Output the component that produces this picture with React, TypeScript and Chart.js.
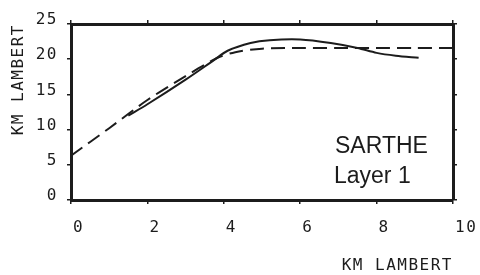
import React, { useEffect, useRef } from "react";
import { Chart, registerables } from "chart.js";

Chart.register(...registerables);

const solidX = [1.5, 2, 3, 3.75, 4.1, 4.7, 5.2, 6, 6.8, 7.5, 8, 8.5, 9.1];
const solidY = [12.0, 13.6, 17.1, 19.9, 21.2, 22.3, 22.7, 22.8, 22.3, 21.6, 20.9, 20.5, 20.2];
const dashedX = [0, 1, 2, 3, 3.8, 4.3, 5, 6, 7, 8, 9, 10];
const dashedY = [6.3, 10.2, 14.2, 17.6, 20.1, 21.0, 21.5, 21.6, 21.6, 21.6, 21.6, 21.6];
const xTicks = [0, 2, 4, 6, 8, 10];
const yTicks = [0, 5, 10, 15, 20, 25];
const axisTitle = "KM LAMBERT";
const labelLines = ["SARTHE", "Layer 1"];

const INK = "#1c1c1c";
const MONO = "'DejaVu Sans Mono', monospace";
const SPACING = "1.5px";

const spacingPlugin = {
  id: "spacing",
  beforeUpdate(chart: any) {
    chart.ctx.letterSpacing = SPACING;
  },
  beforeLayout(chart: any) {
    chart.ctx.letterSpacing = SPACING;
  },
  beforeDraw(chart: any) {
    chart.ctx.letterSpacing = SPACING;
  },
  afterDraw(chart: any) {
    const ctx = chart.ctx;
    const { right, top } = chart.chartArea;
    ctx.save();
    ctx.letterSpacing = "0px";
    ctx.fillStyle = INK;
    ctx.font = "23px 'Liberation Sans', Arial, sans-serif";
    ctx.textAlign = "left";
    ctx.textBaseline = "alphabetic";
    ctx.fillText(labelLines[0], right - 118, top + 129);
    ctx.fillText(labelLines[1], right - 119, top + 159);
    ctx.restore();
  },
};

const noPadH = (s: any) => {
  s.paddingLeft = 0;
  s.paddingRight = 0;
};
const noPadV = (s: any) => {
  s.paddingTop = 0;
  s.paddingBottom = 0;
};

export default function App() {
  const ref = useRef<HTMLCanvasElement | null>(null);

  useEffect(() => {
    if (!ref.current) return;
    const tickFont = { family: MONO, size: 16 };
    const grid = { drawOnChartArea: false, tickLength: 4, color: INK, lineWidth: 1.5 };
    const border = { display: true, width: 3, color: INK };
    const chart = new Chart(ref.current, {
      type: "line",
      data: {
        datasets: [
          {
            data: solidX.map((x, i) => ({ x, y: solidY[i] })),
            borderColor: INK,
            borderWidth: 2,
            pointRadius: 0,
            tension: 0.3,
            fill: false,
          },
          {
            data: dashedX.map((x, i) => ({ x, y: dashedY[i] })),
            borderColor: INK,
            borderWidth: 2,
            borderDash: [14, 7],
            pointRadius: 0,
            tension: 0.3,
            fill: false,
          },
        ],
      },
      options: {
        animation: false,
        responsive: true,
        maintainAspectRatio: false,
        layout: { padding: 0 },
        plugins: { legend: { display: false }, tooltip: { enabled: false } },
        scales: {
          x: {
            type: "linear",
            position: "bottom",
            min: xTicks[0],
            max: xTicks[xTicks.length - 1],
            afterBuildTicks: (s: any) => {
              s.ticks = xTicks.map((v) => ({ value: v }));
            },
            afterFit: (s: any) => {
              s.height = 75;
              noPadH(s);
            },
            ticks: {
              font: tickFont,
              color: INK,
              padding: 14,
              align: "start",
              labelOffset: 2,
              maxRotation: 0,
              autoSkip: false,
            },
            grid,
            border,
            title: {
              display: true,
              text: axisTitle,
              align: "end",
              color: INK,
              font: tickFont,
              padding: { top: 0, bottom: 0 },
            },
          },
          x2: {
            type: "linear",
            position: "top",
            min: xTicks[0],
            max: xTicks[xTicks.length - 1],
            afterBuildTicks: (s: any) => {
              s.ticks = xTicks.map((v) => ({ value: v }));
            },
            afterFit: (s: any) => {
              s.height = 24;
              noPadH(s);
            },
            ticks: { display: false },
            grid,
            border,
          },
          y: {
            type: "linear",
            position: "left",
            min: yTicks[0],
            max: yTicks[yTicks.length - 1],
            afterBuildTicks: (s: any) => {
              s.ticks = yTicks.map((v) => ({ value: v }));
            },
            afterFit: (s: any) => {
              s.width = 71;
              noPadV(s);
            },
            ticks: {
              font: tickFont,
              color: INK,
              padding: 9,
              labelOffset: -4,
              autoSkip: false,
            },
            grid,
            border,
            title: {
              display: true,
              text: axisTitle,
              align: "end",
              color: INK,
              font: tickFont,
              padding: { top: 9, bottom: 0 },
            },
          },
          y2: {
            type: "linear",
            position: "right",
            min: yTicks[0],
            max: yTicks[yTicks.length - 1],
            afterBuildTicks: (s: any) => {
              s.ticks = yTicks.map((v) => ({ value: v }));
            },
            afterFit: (s: any) => {
              s.width = 27;
              noPadV(s);
            },
            ticks: { display: false },
            grid,
            border,
          },
        },
      },
      plugins: [spacingPlugin],
    } as any);
    return () => chart.destroy();
  }, []);

  return (
    <div
      style={{
        position: "fixed",
        left: 0,
        top: 0,
        width: 480,
        height: 275,
        background: "#fff",
      }}
    >
      <canvas ref={ref} />
    </div>
  );
}
